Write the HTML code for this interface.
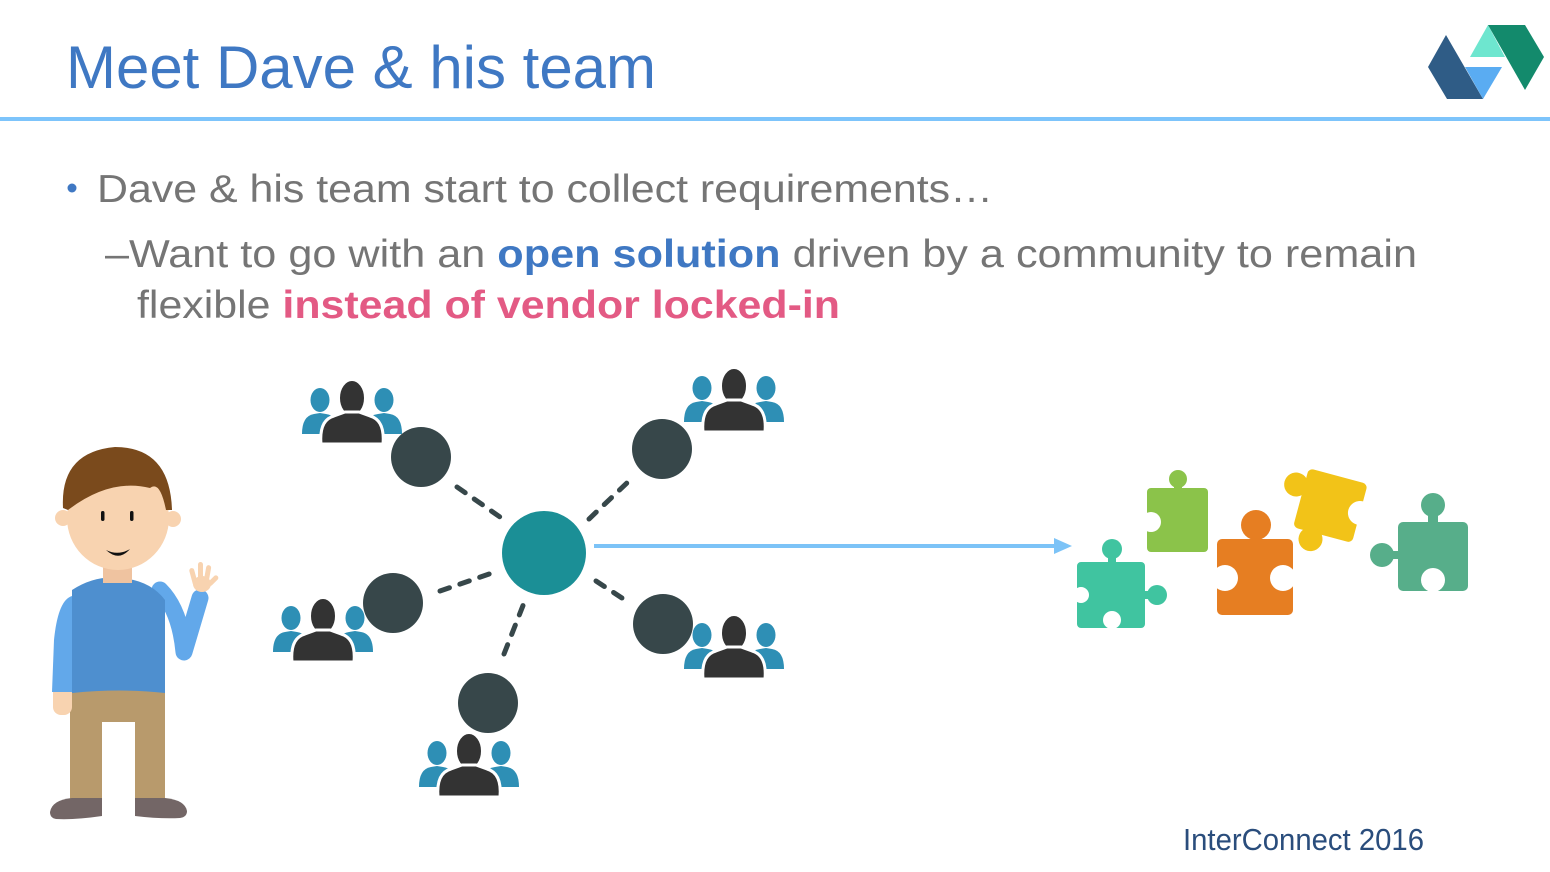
<!DOCTYPE html>
<html><head><meta charset="utf-8"><style>
html,body{margin:0;padding:0;background:#fff;}
svg{display:block;}
text{font-family:"Liberation Sans",Arial,sans-serif;}
</style></head><body>
<svg width="1550" height="872" viewBox="0 0 1550 872" xmlns="http://www.w3.org/2000/svg">
<defs>
<g id="ppl">
  <ellipse cx="-32" cy="-12" rx="9.5" ry="12" fill="#2e8fb5"/>
  <path d="M-50 22 Q-50 4 -38 2 L-32 1 L-26 2 Q-14 4 -12 16 L-12 22 Z" fill="#2e8fb5"/>
  <ellipse cx="32" cy="-12" rx="9.5" ry="12" fill="#2e8fb5"/>
  <path d="M50 22 Q50 4 38 2 L32 1 L26 2 Q14 4 12 16 L12 22 Z" fill="#2e8fb5"/>
  <ellipse cx="0" cy="-14" rx="13" ry="18" fill="#333" stroke="#fff" stroke-width="2"/>
  <path d="M-31 32 Q-33 8 -18 4 L-7 0 L7 0 L18 4 Q33 8 31 32 Z" fill="#333" stroke="#fff" stroke-width="3"/>
</g>
</defs>

<text x="66" y="88" font-size="60" fill="#3f78c3" textLength="590" lengthAdjust="spacingAndGlyphs">Meet Dave &amp; his team</text>
<rect x="0" y="117" width="1550" height="4" fill="#7dc4fb"/>

<polygon points="1428,67 1446,35 1483,99 1447,99" fill="#2f5c86"/>
<polygon points="1465,67 1502,67 1483,99" fill="#5aacf2"/>
<polygon points="1470,57 1488,25 1505,57" fill="#6ee6cf"/>
<polygon points="1488,25 1525,25 1544,57 1525,90" fill="#138a6c"/>

<circle cx="72" cy="188" r="4.5" fill="#3f78c3"/>
<text x="97" y="202" font-size="39" fill="#757575" textLength="896" lengthAdjust="spacingAndGlyphs">Dave &amp; his team start to collect requirements…</text>
<text x="105" y="267" font-size="39" fill="#757575" textLength="1312" lengthAdjust="spacingAndGlyphs">–Want to go with an <tspan fill="#3f78c3" font-weight="bold">open solution</tspan> driven by a community to remain</text>
<text x="137" y="318" font-size="39" fill="#757575" textLength="703" lengthAdjust="spacingAndGlyphs">flexible <tspan fill="#e35a84" font-weight="bold">instead of vendor locked-in</tspan></text>

<g>
  <rect x="70" y="687" width="95" height="35" fill="#b89a6c"/>
  <rect x="70" y="700" width="32" height="100" fill="#b89a6c"/>
  <rect x="135" y="700" width="30" height="100" fill="#b89a6c"/>
  <path d="M50 812 Q52 800 72 798 L102 798 L102 816 Q75 820 56 819 Q50 818 50 812 Z" fill="#736666"/>
  <path d="M187 811 Q185 800 165 798 L135 798 L135 816 Q160 819 180 818 Q187 817 187 811 Z" fill="#736666"/>
  <rect x="53" y="680" width="19" height="35" rx="8" fill="#f8d3b0"/>
  <path d="M72 596 Q58 600 54 640 L52 692 L74 692 Z" fill="#62a8ea"/>
  <path d="M160 590 Q180 610 184 652 L200 598" fill="none" stroke="#62a8ea" stroke-width="17" stroke-linecap="round" stroke-linejoin="round"/>
  <path d="M72 590 Q95 575 120 578 Q150 580 165 600 L165 693 Q120 688 72 693 Z" fill="#4e8fcf"/>
  <g fill="#f8d3b0">
    <ellipse cx="202" cy="584" rx="9" ry="8"/>
    <rect x="191" y="568" width="5" height="18" rx="2.5" transform="rotate(-15 193 577)"/>
    <rect x="198" y="562" width="5" height="20" rx="2.5"/>
    <rect x="205" y="565" width="5" height="18" rx="2.5" transform="rotate(10 207 574)"/>
    <rect x="211" y="574" width="5" height="13" rx="2.5" transform="rotate(45 213 580)"/>
  </g>
  <rect x="103" y="565" width="29" height="18" fill="#efc3a0"/>
  <circle cx="63" cy="518" r="8" fill="#f8d3b0"/>
  <circle cx="173" cy="519" r="8" fill="#f8d3b0"/>
  <ellipse cx="118" cy="518" rx="51" ry="52" fill="#f8d3b0"/>
  <path d="M63 508 Q60 452 115 447 Q170 447 172 510 L166 510 Q160 480 150 488 Q110 478 68 510 Z" fill="#7a4a1c"/>
  <rect x="101" y="511" width="3.5" height="10" rx="1.7" fill="#111"/>
  <rect x="130" y="511" width="3.5" height="10" rx="1.7" fill="#111"/>
  <path d="M106 550 Q118 556 130 549 Q119 562 106 550 Z" fill="#111"/>
</g>

<g stroke="#37474a" stroke-width="5" stroke-linecap="round" stroke-dasharray="10 11" fill="none">
  <line x1="457" y1="487" x2="500" y2="517"/>
  <line x1="589" y1="519" x2="629" y2="481"/>
  <line x1="440" y1="591" x2="492" y2="573"/>
  <line x1="596" y1="581" x2="625" y2="600"/>
  <line x1="504" y1="654" x2="524" y2="603"/>
</g>
<circle cx="544" cy="553" r="42" fill="#1b8f96"/>
<g fill="#37474a">
  <circle cx="421" cy="457" r="30"/>
  <circle cx="662" cy="449" r="30"/>
  <circle cx="393" cy="603" r="30"/>
  <circle cx="663" cy="624" r="30"/>
  <circle cx="488" cy="703" r="30"/>
</g>
<use href="#ppl" x="352" y="412"/>
<use href="#ppl" x="734" y="400"/>
<use href="#ppl" x="323" y="630"/>
<use href="#ppl" x="734" y="647"/>
<use href="#ppl" x="469" y="765"/>

<rect x="594" y="544" width="462" height="4" fill="#7cc3f7"/>
<polygon points="1054,538 1072,546 1054,554" fill="#7cc3f7"/>

<g fill="#40c4a0">
  <rect x="1077" y="562" width="68" height="66" rx="4"/>
  <circle cx="1112" cy="549" r="10"/><rect x="1108" y="552" width="8" height="12"/>
  <circle cx="1157" cy="595" r="10"/><rect x="1143" y="591" width="12" height="8"/>
</g>
<circle cx="1081" cy="595" r="8" fill="#fff"/>
<circle cx="1112" cy="620" r="9" fill="#fff"/>

<g fill="#8bc34a">
  <rect x="1147" y="488" width="61" height="64" rx="4"/>
  <circle cx="1178" cy="479" r="9"/><rect x="1174" y="482" width="8" height="8"/>
</g>
<circle cx="1151" cy="522" r="10" fill="#fff"/>

<g fill="#e67e22">
  <rect x="1217" y="539" width="76" height="76" rx="5"/>
  <circle cx="1256" cy="525" r="15"/>
</g>
<circle cx="1225" cy="578" r="13" fill="#fff"/>
<circle cx="1283" cy="578" r="13" fill="#fff"/>

<g transform="rotate(15 1330 505)">
  <rect x="1300" y="475" width="61" height="61" rx="5" fill="#f2c318"/>
  <circle cx="1292" cy="494" r="12" fill="#f2c318"/>
  <circle cx="1320" cy="543" r="12" fill="#f2c318"/>
  <circle cx="1361" cy="505" r="12" fill="#fff"/>
</g>

<g fill="#57ae8a">
  <rect x="1398" y="522" width="70" height="69" rx="5"/>
  <circle cx="1433" cy="505" r="12"/><rect x="1428" y="510" width="10" height="14"/>
  <circle cx="1382" cy="555" r="12"/><rect x="1388" y="551" width="12" height="8"/>
</g>
<circle cx="1433" cy="580" r="12" fill="#fff"/>

<text x="1183" y="850" font-size="31" fill="#2a4d7c" textLength="241" lengthAdjust="spacingAndGlyphs">InterConnect 2016</text>
</svg>
</body></html>
